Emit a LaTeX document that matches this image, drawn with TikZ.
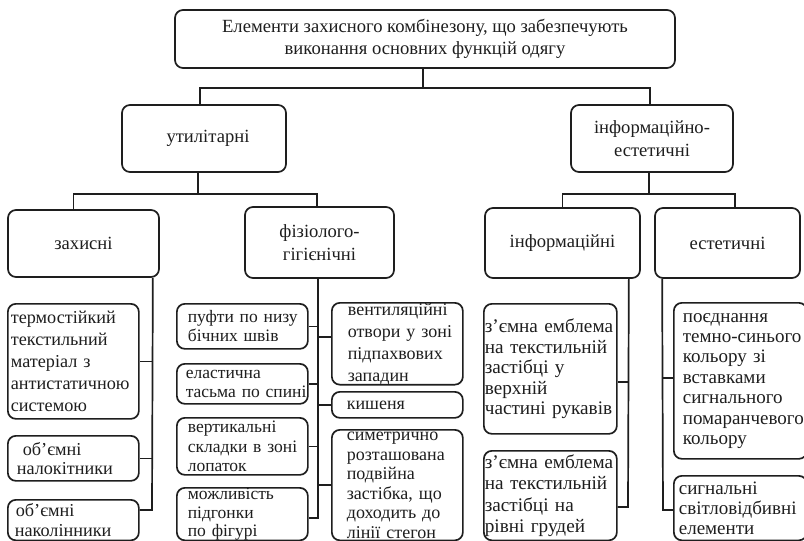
\documentclass[tikz,border=0pt]{standalone}
\usepackage{fontspec}
\setmainfont{Liberation Serif}
\usetikzlibrary{calc}
\definecolor{ink}{HTML}{1E1E1E}
\newcommand{\lf}[2]{\leftskip=#1\relax #2\par}
\newcommand{\fs}[2]{\fontsize{#1}{#2}\selectfont}
\tikzset{
  box/.style={draw=ink, line width=1.7pt, rounded corners=8pt, inner sep=0pt, text=ink},
  head/.style={box, align=center, font=\fs{18.6}{22.5}},
  leaf/.style={box, anchor=north west, align=left, inner xsep=1pt, inner ysep=0pt},
  ln/.style={draw=ink, line width=1.7pt},
}
\begin{document}
\begin{tikzpicture}[x=1pt,y=-1pt]
\clip (0,0) rectangle (804,541);
\fill[white] (0,0) rectangle (804,541);

% upper levels
\node[head, minimum width=500pt, minimum height=58pt] (top) at (425,39)
  {Елементи захисного комбінезону, що забезпечують\\виконання основних функцій одягу};
\node[head, minimum width=164pt, minimum height=67pt] (util) at (204,138.5) {\hspace*{8pt}утилітарні};
\node[head, minimum width=162pt, minimum height=67pt] (info) at (652,138.5) {інформаційно-\\естетичні};
\node[head, minimum width=151pt, minimum height=67pt] (zakh) at (83.5,243.5) {захисні};
\node[head, minimum width=149pt, minimum height=71pt] (fiz) at (319.5,242.5) {фізіолого-\\гігієнічні};
\node[head, minimum width=155pt, minimum height=70pt] (inf) at (562.5,243) {інформаційні};
\node[head, minimum width=145pt, minimum height=70pt] (est) at (727.5,243) {естетичні};

% leaves: захисні (x 7..138)
\node[leaf, text width=129pt, minimum height=115pt, font=\fs{18.2}{22}] (term) at (7,303)
  {\lf{2pt}{термостійкий\\текстильний\\матеріал з\\антистатичною\\системою}};
\node[leaf, text width=129pt, minimum height=45pt, font=\fs{18.2}{19.5}] (nalok) at (7,435)
  {\lf{8pt}{\hspace*{6pt}об’ємні\\налокітники}};
\node[leaf, text width=129pt, minimum height=40.5pt, font=\fs{18.2}{19.5}] (nakol) at (7,499)
  {\lf{6pt}{\hspace*{1pt}об’ємні\\наколінники}};

% leaves: фізіолого-гігієнічні, left (x 176..307)
\node[leaf, text width=129pt, minimum height=45pt, font=\fs{17.5}{19}] (puf) at (176,303)
  {\lf{10pt}{пуфти~по~низу\\бічних швів}};
\node[leaf, text width=129pt, minimum height=40pt, font=\fs{17.5}{19}] (elas) at (176,363)
  {\lf{8pt}{еластична\\тасьма~по~спині}};
\node[leaf, text width=129pt, minimum height=57pt, font=\fs{17.5}{19.5}] (vert) at (176,417)
  {\lf{10pt}{вертикальні\\складки~в~зоні\\лопаток}};
\node[leaf, text width=129pt, minimum height=52.5pt, font=\fs{17.5}{18.5}] (mozh) at (176,487)
  {\lf{10pt}{можливість\\підгонки\\по фігурі}};

% leaves: фізіолого-гігієнічні, right (x 331..462)
\node[leaf, text width=129pt, minimum height=80pt, font=\fs{18}{22}] (vent) at (331,302)
  {\lf{15pt}{вентиляційні\\отвори~у~зоні\\підпахвових\\западин}};
\node[leaf, text width=129pt, minimum height=26pt, font=\fs{18}{20}] (kish) at (331,391)
  {\lf{14pt}{кишеня}};
\node[leaf, text width=129pt, minimum height=110.5pt, font=\fs{18}{19.5}] (sym) at (331,429)
  {\lf{14pt}{симетрично\\розташована\\подвійна\\застібка, що\\доходить до\\лінії стегон}};

% leaves: інформаційні (x 483..616)
\node[leaf, text width=131pt, minimum height=130pt, font=\fs{19.2}{20.5}] (z1) at (483,303)
  {з’ємна~емблема\\на~текстильній\\застібці у\\верхній\\частині~рукавів};
\node[leaf, text width=131pt, minimum height=89.5pt, font=\fs{19.2}{21.5}] (z2) at (483,450)
  {з’ємна~емблема\\на~текстильній\\застібці на\\рівні грудей};

% leaves: естетичні (x 673..806)
\node[leaf, text width=131pt, minimum height=156pt, font=\fs{19}{20.4}] (poed) at (673,302)
  {\lf{8pt}{поєднання\\\mbox{темно-синього}\\кольору зі\\вставками\\сигнального\\помаранчевого\\кольору}};
\node[leaf, text width=131pt, minimum height=64.5pt, font=\fs{19}{20}] (sig) at (673,475)
  {\lf{4pt}{сигнальні\\світловідбивні\\елементи}};

% connectors upper
\draw[ln] ([xshift=-2pt]top.south) -- ++(0,19) coordinate (bus1);
\draw[ln] ([xshift=-4pt]util.north) |- (bus1) -| ([xshift=-2pt]info.north);
\draw[ln] ([xshift=-6pt]util.south) -- ++(0,21) coordinate (bus2);
\draw[ln] ([xshift=-10pt]zakh.north) |- (bus2) -| ([xshift=-2.5pt]fiz.north);
\draw[ln] ([xshift=-3pt]info.south) -- ++(0,21) coordinate (bus3);
\draw[ln] (inf.north) |- (bus3) -| ([xshift=7.5pt]est.north);

% spines
\coordinate (s1) at ([xshift=-7pt]zakh.south east);
\coordinate (e1) at (152,510);
\draw[ln] (s1) -- (e1) -- (e1 -| nakol.east);
\draw[ln] (term.east -| s1) -- (term.east);
\draw[ln] (nalok.east -| s1) -- (nalok.east);

\coordinate (s2) at ([xshift=-1.5pt]fiz.south);
\coordinate (e2) at (318,518);
\coordinate (r2) at (318,485);
\coordinate (v2) at (318,337);
\draw[ln] (s2) -- (e2) -- (e2 -| mozh.east);
\draw[ln] (puf.east -| s2) -- (puf.east);
\draw[ln] (elas.east -| s2) -- (elas.east);
\draw[ln] (vert.east -| s2) -- (vert.east);
\draw[ln] (v2) -- (v2 -| vent.west);
\draw[ln] (kish.west -| s2) -- (kish.west);
\draw[ln] (r2) -- (r2 -| sym.west);

\coordinate (s3) at ([xshift=-12pt]inf.south east);
\coordinate (e3) at (628,507);
\coordinate (m3) at (628,382);
\draw[ln] (s3) -- (e3) -- (e3 -| z2.east);
\draw[ln] (m3) -- (m3 -| z1.east);

\coordinate (s4) at ([xshift=8pt]est.south west);
\coordinate (e4) at (663,510);
\coordinate (m4) at (663,378);
\draw[ln] (s4) -- (e4) -- (e4 -| sig.west);
\draw[ln] (m4) -- (m4 -| poed.west);
\end{tikzpicture}
\end{document}
